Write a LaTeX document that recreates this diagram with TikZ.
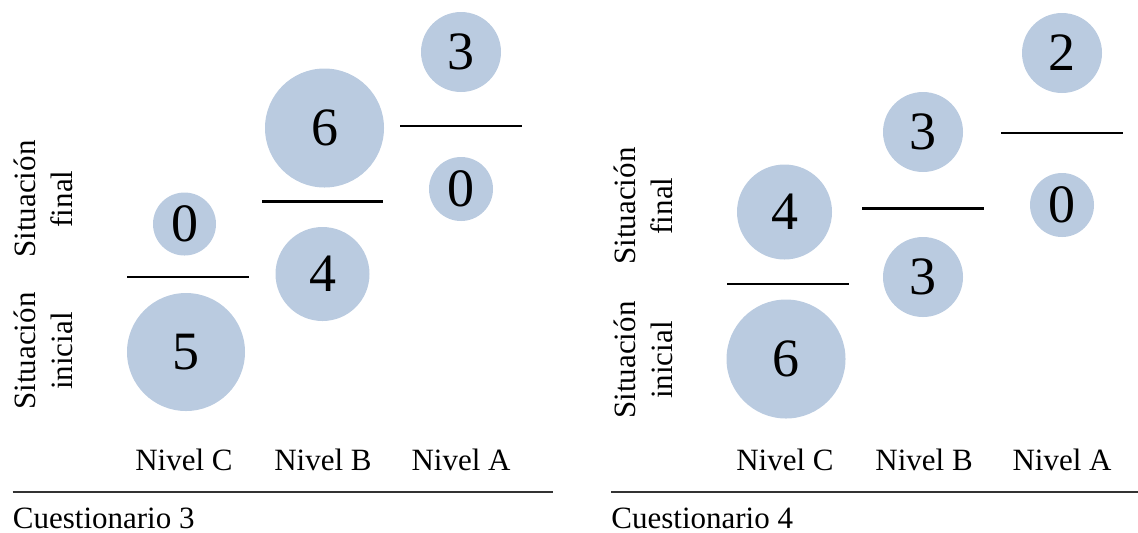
\documentclass[tikz,border=0pt]{standalone}
\usepackage{fontspec}
\setmainfont{Liberation Serif}
\usepackage{xcolor}
\usepackage{tikz}
\definecolor{bubble}{RGB}{186,203,224}

\begin{document}
\begin{tikzpicture}[x=0.5pt,y=-0.5pt,
    num/.style={circle,fill=bubble,inner sep=0pt,font=\fontsize{27}{30}\selectfont},
    lvl/.style={anchor=base,font=\fontsize{15.5}{18.5}\selectfont},
    sit/.style={rotate=90,align=center,font=\fontsize{15.5}{18.5}\selectfont},
    sep/.style={line width=1.3pt},
    rule/.style={line width=1.4pt,black!80}]
    \useasboundingbox (0,0) rectangle (1138,532);
    % Cuestionario 3
    \node[sit] (q3f) at (43.5,199) {Situación\\final};
    \node[sit] (q3i) at (43.5,351) {Situación\\inicial};
    \node[num,minimum size=59pt] (q3Ci) at (186,352) {5};
    \node[num,minimum size=31.5pt] (q3Cf) at (184.5,224) {0};
    \node[num,minimum size=47pt] (q3Bi) at (322.5,274) {4};
    \node[num,minimum size=59.5pt] (q3Bf) at (324.5,128) {6};
    \node[num,minimum size=32pt] (q3Ai) at (461,189) {0};
    \node[num,minimum size=40pt] (q3Af) at (461,52) {3};
    \draw[sep] (127,277) -- (249,277);
    \draw[sep] (262,201.5) -- (383,201.5);
    \draw[sep] (400,126) -- (522,126);
    \node[lvl] (q3C) at (184,470) {Nivel C};
    \node[lvl] (q3B) at (323,470) {Nivel B};
    \node[lvl] (q3A) at (461,470) {Nivel A};
    \draw[rule] (12.5,492) -- (553,492);
    \node[lvl,anchor=base west,inner sep=0pt] (q3) at (12.5,528) {Cuestionario 3};
    % Cuestionario 4
    \node[sit] (q4f) at (643.5,206) {Situación\\final};
    \node[sit] (q4i) at (643.5,360) {Situación\\inicial};
    \node[num,minimum size=59.5pt] (q4Ci) at (786,359) {6};
    \node[num,minimum size=47.5pt] (q4Cf) at (784.5,212) {4};
    \node[num,minimum size=40pt] (q4Bi) at (923,277) {3};
    \node[num,minimum size=40pt] (q4Bf) at (923,132) {3};
    \node[num,minimum size=32pt] (q4Ai) at (1062,205) {0};
    \node[num,minimum size=40pt] (q4Af) at (1062,53) {2};
    \draw[sep] (727,284) -- (849,284);
    \draw[sep] (862,208.5) -- (983.5,208.5);
    \draw[sep] (1001,133) -- (1123,133);
    \node[lvl] (q4C) at (785,470) {Nivel C};
    \node[lvl] (q4B) at (924,470) {Nivel B};
    \node[lvl] (q4A) at (1062,470) {Nivel A};
    \draw[rule] (611,492) -- (1138,492);
    \node[lvl,anchor=base west,inner sep=0pt] (q4) at (611,528) {Cuestionario 4};
\end{tikzpicture}
\end{document}
